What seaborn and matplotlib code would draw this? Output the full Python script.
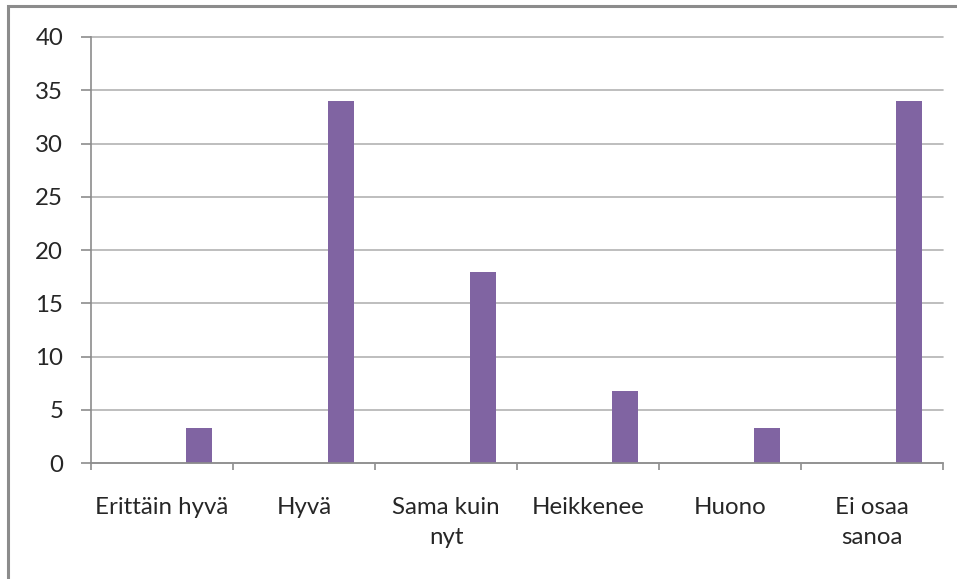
import numpy as np
import pandas as pd
import matplotlib
matplotlib.use("Agg")
import matplotlib.pyplot as plt
import seaborn as sns
from matplotlib.patches import Rectangle

# values
categories = ["Erittäin hyvä", "Hyvä", "Sama kuin\nnyt", "Heikkenee", "Huono", "Ei osaa\nsanoa"]
values = [3.3, 34.0, 17.9, 6.8, 3.3, 34.0]
y_ticks = [0, 5, 10, 15, 20, 25, 30, 35, 40]

BAR = "#8064A2"
GRID = "#B3B3B3"
AXIS = "#8C8C8C"
TEXT = "#262626"

sns.set_theme(style="white")
plt.rcParams["font.family"] = ["Lato", "DejaVu Sans"]

# Excel-style clustered bar: the plotted series sits right of the category centre
idx = np.arange(len(categories))
df = pd.DataFrame({"pos": idx + 0.26, "value": values})

fig = plt.figure(figsize=(9.57, 5.79), dpi=100)
ax = fig.add_axes([0.0951, 0.2003, 0.8903, 0.7358])

sns.barplot(data=df, x="pos", y="value", native_scale=True, width=0.185,
            color=BAR, saturation=1, edgecolor="none", ax=ax)

ax.set_xlim(-0.5, len(categories) - 0.5)
ax.set_ylim(0, 40)
ax.set_yticks(y_ticks)
ax.set_yticklabels([str(t) for t in y_ticks])
ax.set_xticks(idx)
ax.set_xticklabels(categories, linespacing=1.5)
ax.set_xticks(np.arange(-0.5, len(categories)), minor=True)
ax.set_xlabel("")
ax.set_ylabel("")

ax.yaxis.grid(True, color=GRID, linewidth=1.2)
for gl in ax.get_ygridlines():
    gl.set_clip_on(False)
ax.set_axisbelow(True)
for s in ["top", "right"]:
    ax.spines[s].set_visible(False)
for s in ["left", "bottom"]:
    ax.spines[s].set_color(AXIS)
    ax.spines[s].set_linewidth(1.2)

ax.tick_params(axis="y", which="major", length=7.5, width=1.2, color=AXIS,
               pad=12.5, labelsize=17.3, labelcolor=TEXT, left=True)
ax.tick_params(axis="x", which="major", length=0, pad=24.5,
               labelsize=17.3, labelcolor=TEXT)
ax.tick_params(axis="x", which="minor", length=5, width=1.2, color=AXIS, bottom=True)

# outer chart frame (cropped at right/bottom in the reference)
fig.patches.append(Rectangle((8 / 957, -0.1), 1.2, 1 - 6 / 579 + 0.1,
                             transform=fig.transFigure, fill=False,
                             edgecolor="#8C8C8C", linewidth=2.2))

fig.savefig("out.png", dpi=100)
